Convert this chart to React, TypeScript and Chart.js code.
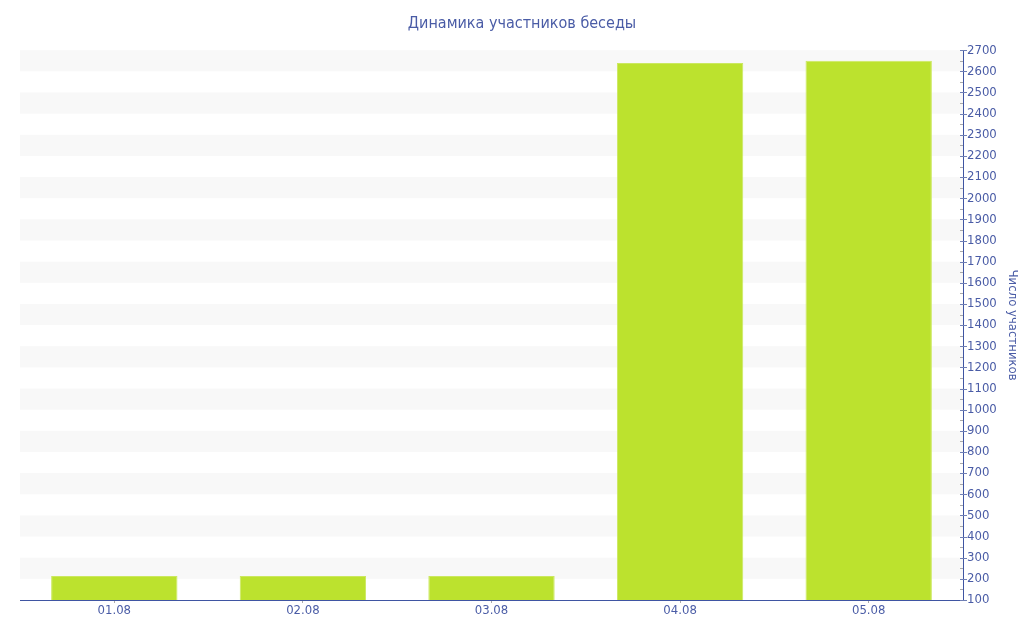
import { useEffect, useRef } from "react";
import { Chart, registerables } from "chart.js";

Chart.register(...registerables);

const days = ["01.08", "02.08", "03.08", "04.08", "05.08"];
const members = [213, 213, 213, 2640, 2650];
const yMin = 100;
const yMax = 2700;
const yStep = 100;
const minorStep = 50;

const blue = "#3f55a2";
const textBlue = "#4a5ca6";
const font = "'DejaVu Sans Condensed', 'DejaVu Sans', Verdana, sans-serif";

export default function App() {
  const ref = useRef<HTMLCanvasElement | null>(null);

  useEffect(() => {
    if (!ref.current) return;

    // светлые полосы фона через одну
    const stripes = {
      id: "stripes",
      beforeDatasetsDraw: (c: Chart) => {
        const { ctx, chartArea } = c;
        const y = c.scales.y;
        ctx.save();
        ctx.fillStyle = "#f8f8f8";
        for (let v = yMin + yStep; v < yMax; v += yStep * 2) {
          const top = y.getPixelForValue(v + yStep);
          const bot = y.getPixelForValue(v);
          ctx.fillRect(chartArea.left, top, chartArea.right - chartArea.left, bot - top);
        }
        ctx.restore();
      },
    };

    // основные и промежуточные засечки правой оси
    const yTicks = {
      id: "y-ticks",
      afterDraw: (c: Chart) => {
        const { ctx } = c;
        const y = c.scales.y;
        const x = y.left;
        ctx.save();
        ctx.lineWidth = 1;
        for (let v = yMin; v <= yMax; v += minorStep) {
          const p = Math.round(y.getPixelForValue(v)) + 0.5;
          const major = v % yStep === 0;
          ctx.strokeStyle = major ? "#6f7fb5" : "#aaaaaa";
          ctx.beginPath();
          ctx.moveTo(x - 3, p);
          ctx.lineTo(major ? x + 4 : x, p);
          ctx.stroke();
        }
        ctx.restore();
      },
    };

    const chart = new Chart(ref.current, {
      type: "bar",
      data: {
        labels: days,
        datasets: [
          {
            data: members,
            backgroundColor: "#bce22e",
            borderColor: "#cbe85f",
            borderWidth: 1,
            categoryPercentage: 1,
            barPercentage: 0.67,
          },
        ],
      },
      options: {
        animation: false,
        responsive: true,
        maintainAspectRatio: false,
        layout: { padding: { left: 20, right: 0, top: 0, bottom: 0 } },
        plugins: {
          legend: { display: false },
          tooltip: { enabled: false },
          title: {
            display: true,
            text: "Динамика участников беседы",
            color: textBlue,
            font: { family: font, size: 16, weight: "normal" },
            padding: { top: 14, bottom: 17 },
          },
        },
        scales: {
          x: {
            grid: {
              display: true,
              drawOnChartArea: false,
              offset: false,
              tickLength: 3,
              tickColor: "#aaaaaa",
            },
            border: { display: true, color: blue, width: 1 },
            ticks: { color: textBlue, font: { family: font, size: 13 }, padding: 0 },
            afterFit: (s: any) => {
              s.height = 40;
            },
          },
          y: {
            position: "right",
            min: yMin,
            max: yMax,
            grid: {
              display: true,
              drawOnChartArea: false,
              tickLength: 4,
              tickColor: "transparent",
            },
            border: { display: true, color: blue, width: 1 },
            ticks: {
              stepSize: yStep,
              color: textBlue,
              font: { family: font, size: 13 },
              padding: 0,
              callback: (v: any) => String(v),
            },
            title: {
              display: true,
              text: "Число участников",
              color: textBlue,
              font: { family: font, size: 13 },
            },
            afterFit: (s: any) => {
              s.width = 61;
            },
          },
        },
      },
      plugins: [stripes, yTicks],
    });

    return () => chart.destroy();
  }, []);

  return (
    <div style={{ position: "fixed", left: 0, top: 0, width: 1024, height: 640, background: "#fff" }}>
      <canvas ref={ref} />
    </div>
  );
}
